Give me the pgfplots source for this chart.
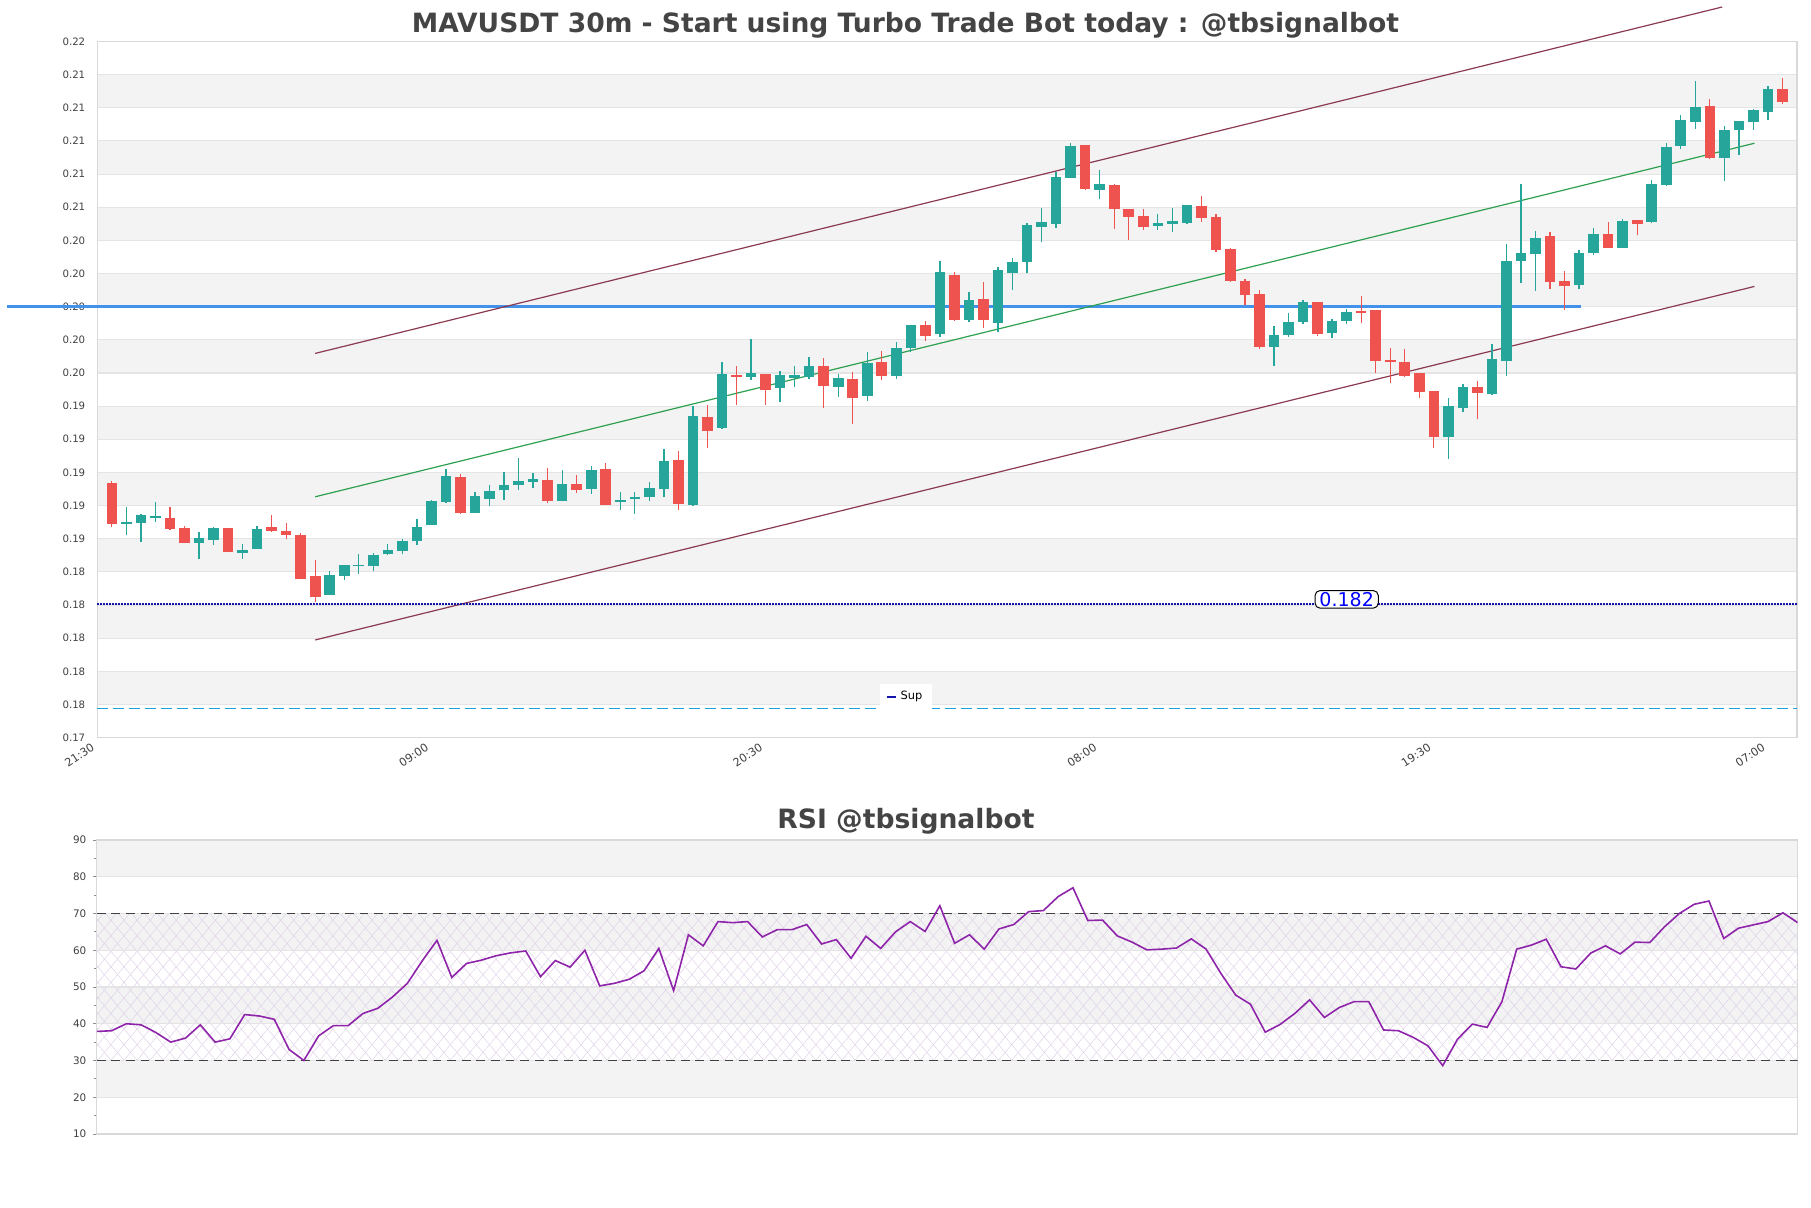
\documentclass[border=0pt]{standalone}
\usepackage{fontspec}
\setmainfont{DejaVu Sans}
\usepackage{pgfplots}
\usepackage{pgfplotstable}
\pgfplotsset{compat=1.18}
\usetikzlibrary{patterns.meta}

\definecolor{cup}{HTML}{26A69A}
\definecolor{cdn}{HTML}{EF5350}
\definecolor{bandc}{HTML}{F3F3F3}
\definecolor{gridc}{HTML}{E4E4E4}
\definecolor{framec}{HTML}{D9D9D9}
\definecolor{labc}{HTML}{404040}
\definecolor{titlec}{HTML}{444444}
\definecolor{chan}{HTML}{8B3A50}
\definecolor{mid}{HTML}{2EA050}
\definecolor{resist}{HTML}{4292EB}
\definecolor{navyc}{HTML}{1414AA}
\definecolor{cyanc}{HTML}{1AA7E0}
\definecolor{rsic}{HTML}{8E24AA}
\definecolor{hatchc}{HTML}{E0D2E9}

% candles: index, open, high, low, close
\pgfplotstableread{
i o h l c
2 0.18691 0.18789 0.18624 0.18699
3 0.18697 0.18751 0.18582 0.18743
4 0.18727 0.18821 0.18703 0.18737
7 0.18576 0.18638 0.18480 0.18602
8 0.18594 0.18668 0.18564 0.18665
10 0.18516 0.18568 0.18480 0.18530
11 0.18540 0.18677 0.18538 0.18659
16 0.18262 0.18405 0.18258 0.18381
17 0.18377 0.18443 0.18353 0.18441
18 0.18433 0.18510 0.18389 0.18441
19 0.18437 0.18512 0.18407 0.18502
20 0.18506 0.18568 0.18500 0.18530
21 0.18528 0.18596 0.18506 0.18586
22 0.18584 0.18719 0.18560 0.18671
23 0.18685 0.18834 0.18683 0.18827
24 0.18821 0.19021 0.18817 0.18978
26 0.18757 0.18880 0.18753 0.18858
27 0.18842 0.18926 0.18799 0.18888
28 0.18896 0.19000 0.18836 0.18924
29 0.18922 0.19087 0.18894 0.18948
30 0.18944 0.18994 0.18908 0.18960
32 0.18829 0.19014 0.18827 0.18930
34 0.18902 0.19037 0.18872 0.19014
36 0.18823 0.18882 0.18773 0.18834
37 0.18838 0.18882 0.18751 0.18852
38 0.18854 0.18942 0.18827 0.18906
39 0.18902 0.19141 0.18850 0.19069
41 0.18803 0.19401 0.18797 0.19340
43 0.19270 0.19664 0.19264 0.19594
45 0.19578 0.19805 0.19560 0.19598
47 0.19511 0.19614 0.19427 0.19586
48 0.19570 0.19642 0.19517 0.19586
49 0.19578 0.19696 0.19566 0.19642
51 0.19517 0.19594 0.19457 0.19570
53 0.19463 0.19726 0.19433 0.19660
55 0.19582 0.19785 0.19566 0.19751
56 0.19751 0.19889 0.19724 0.19887
58 0.19837 0.20275 0.19819 0.20209
60 0.19922 0.20088 0.19909 0.20040
62 0.19903 0.20241 0.19845 0.20221
63 0.20205 0.20294 0.20103 0.20269
64 0.20271 0.20503 0.20201 0.20493
65 0.20483 0.20595 0.20388 0.20511
66 0.20501 0.20814 0.20477 0.20782
67 0.20778 0.20985 0.20776 0.20971
69 0.20706 0.20824 0.20652 0.20740
73 0.20489 0.20559 0.20463 0.20505
74 0.20501 0.20595 0.20453 0.20517
75 0.20507 0.20615 0.20497 0.20613
81 0.19757 0.19883 0.19644 0.19829
82 0.19831 0.19964 0.19819 0.19907
83 0.19909 0.20038 0.19897 0.20028
85 0.19843 0.19924 0.19813 0.19913
86 0.19915 0.19986 0.19897 0.19968
93 0.19216 0.19447 0.19083 0.19401
94 0.19391 0.19533 0.19366 0.19515
96 0.19475 0.19777 0.19465 0.19684
97 0.19674 0.20378 0.19584 0.20275
98 0.20277 0.20740 0.20141 0.20322
99 0.20320 0.20456 0.20096 0.20414
102 0.20133 0.20342 0.20105 0.20326
103 0.20322 0.20475 0.20310 0.20438
105 0.20356 0.20527 0.20354 0.20519
107 0.20513 0.20762 0.20503 0.20740
108 0.20734 0.20987 0.20730 0.20963
109 0.20971 0.21158 0.20951 0.21126
110 0.21116 0.21361 0.21074 0.21205
112 0.20899 0.21090 0.20760 0.21066
113 0.21068 0.21122 0.20917 0.21120
114 0.21116 0.21195 0.21066 0.21187
115 0.21177 0.21331 0.21128 0.21313
}\upT

\pgfplotstableread{
i o h l c
1 0.18936 0.18948 0.18673 0.18691
5 0.18725 0.18789 0.18655 0.18661
6 0.18665 0.18675 0.18572 0.18576
9 0.18665 0.18667 0.18520 0.18522
12 0.18671 0.18743 0.18642 0.18648
13 0.18646 0.18695 0.18596 0.18624
14 0.18622 0.18632 0.18357 0.18359
15 0.18375 0.18472 0.18220 0.18250
25 0.18974 0.18990 0.18751 0.18757
31 0.18954 0.19029 0.18813 0.18829
33 0.18930 0.18984 0.18878 0.18896
35 0.19020 0.19057 0.18801 0.18805
40 0.19075 0.19127 0.18775 0.18811
42 0.19336 0.19405 0.19148 0.19252
44 0.19586 0.19642 0.19407 0.19578
46 0.19594 0.19596 0.19407 0.19499
50 0.19642 0.19692 0.19391 0.19523
52 0.19562 0.19606 0.19294 0.19451
54 0.19666 0.19733 0.19558 0.19584
57 0.19887 0.19916 0.19795 0.19825
59 0.20191 0.20209 0.19916 0.19922
61 0.20046 0.20147 0.19873 0.19920
68 0.20975 0.20977 0.20706 0.20710
70 0.20734 0.20740 0.20471 0.20591
71 0.20587 0.20589 0.20402 0.20543
72 0.20547 0.20589 0.20465 0.20483
76 0.20607 0.20668 0.20513 0.20537
77 0.20541 0.20557 0.20332 0.20344
78 0.20348 0.20354 0.20151 0.20157
79 0.20155 0.20167 0.20012 0.20072
80 0.20076 0.20101 0.19745 0.19757
84 0.20028 0.20030 0.19825 0.19837
87 0.19970 0.20062 0.19903 0.19964
88 0.19980 0.19982 0.19602 0.19674
89 0.19678 0.19751 0.19541 0.19664
90 0.19666 0.19745 0.19574 0.19584
91 0.19598 0.19600 0.19451 0.19487
92 0.19491 0.19493 0.19149 0.19216
95 0.19515 0.19551 0.19324 0.19481
100 0.20426 0.20448 0.20109 0.20151
101 0.20155 0.20217 0.19980 0.20127
104 0.20438 0.20511 0.20354 0.20356
106 0.20523 0.20525 0.20430 0.20501
111 0.21211 0.21251 0.20893 0.20897
116 0.21313 0.21380 0.21225 0.21237
}\dnT

\pgfplotstableread{
k rsi
0 37.9
1 38.1
2 40.0
3 39.7
4 37.6
5 35.0
6 36.1
7 39.7
8 35.0
9 35.9
10 42.5
11 42.1
12 41.2
13 33.0
14 30.0
15 36.7
16 39.5
17 39.5
18 42.8
19 44.2
20 47.3
21 51.0
22 57.1
23 62.7
24 52.6
25 56.4
26 57.3
27 58.5
28 59.3
29 59.8
30 52.8
31 57.2
32 55.4
33 60.0
34 50.3
35 51.0
36 52.1
37 54.4
38 60.5
39 49.0
40 64.2
41 61.2
42 67.8
43 67.5
44 67.8
45 63.6
46 65.6
47 65.6
48 67.0
49 61.7
50 62.9
51 57.8
52 63.8
53 60.5
54 65.0
55 67.8
56 65.1
57 72.1
58 61.9
59 64.2
60 60.3
61 65.8
62 67.0
63 70.5
64 70.8
65 74.6
66 77.0
67 68.1
68 68.2
69 63.9
70 62.2
71 60.1
72 60.3
73 60.6
74 63.1
75 60.3
76 53.7
77 47.8
78 45.3
79 37.7
80 39.8
81 42.8
82 46.5
83 41.7
84 44.4
85 46.0
86 46.0
87 38.3
88 38.1
89 36.3
90 34.0
91 28.6
92 35.8
93 39.9
94 39.0
95 46.0
96 60.3
97 61.4
98 63.0
99 55.5
100 54.9
101 59.2
102 61.2
103 59.0
104 62.2
105 62.1
106 66.4
107 70.0
108 72.5
109 73.4
110 63.2
111 66.0
112 66.9
113 67.8
114 70.2
115 67.5
}\rsiT

\pgfplotsset{
  band/.style={forget plot, on layer=axis background, fill=bandc, draw=none},
}

\begin{document}
\begin{tikzpicture}

\node[anchor=base, text=titlec, font=\bfseries\fontsize{13.28}{16}\selectfont]
  at (452.75pt,587.75pt) {MAVUSDT 30m - Start using Turbo Trade Bot today : @tbsignalbot};
\node[anchor=base, text=titlec, font=\bfseries\fontsize{13.3}{16}\selectfont]
  at (453pt,189.5pt) {RSI @tbsignalbot};

\begin{axis}[
  at={(48.65pt,235.2pt)}, anchor=south west,
  scale only axis, width=849.85pt, height=348.05pt,
  xmin=0, xmax=117, ymin=0.174, ymax=0.216,
  clip=false, set layers,
  axis line style={draw=framec, line width=0.6pt},
  ymajorgrids, major grid style={draw=gridc, line width=0.55pt},
  major tick length=0pt,
  xtick={0,23,46,69,92,115},
  xticklabels={21:30,09:00,20:30,08:00,19:30,07:00},
  ytick={0.174,0.176,0.178,0.180,0.182,0.184,0.186,0.188,0.190,0.192,0.194,
         0.196,0.198,0.200,0.202,0.204,0.206,0.208,0.210,0.212,0.214,0.216},
  scaled y ticks=false,
  /pgf/number format/assume math mode=true,
  yticklabel style={/pgf/number format/fixed, /pgf/number format/fixed zerofill,
    /pgf/number format/precision=2, font=\fontsize{5.1}{6}\selectfont, text=labc, xshift=-2.5pt},
  xticklabel style={rotate=33, anchor=north east, font=\fontsize{5.6}{6.5}\selectfont,
    text=labc, inner sep=1pt, xshift=-3pt, yshift=0.8pt},
  legend style={at={(0.4758,0.0583)}, anchor=center, draw=none, fill=white,
    font=\fontsize{5.7}{6.5}\selectfont, inner xsep=3pt, inner ysep=1.6pt},
  legend image code/.code={\draw[navyc, solid, line width=0.9pt] (0pt,0pt) -- (4.6pt,0pt);},
]
\addplot [band] coordinates {(0,0.176) (117,0.176) (117,0.178) (0,0.178) (0,0.176)};
\addplot [band] coordinates {(0,0.180) (117,0.180) (117,0.182) (0,0.182) (0,0.180)};
\addplot [band] coordinates {(0,0.184) (117,0.184) (117,0.186) (0,0.186) (0,0.184)};
\addplot [band] coordinates {(0,0.188) (117,0.188) (117,0.190) (0,0.190) (0,0.188)};
\addplot [band] coordinates {(0,0.192) (117,0.192) (117,0.194) (0,0.194) (0,0.192)};
\addplot [band] coordinates {(0,0.196) (117,0.196) (117,0.198) (0,0.198) (0,0.196)};
\addplot [band] coordinates {(0,0.200) (117,0.200) (117,0.202) (0,0.202) (0,0.200)};
\addplot [band] coordinates {(0,0.204) (117,0.204) (117,0.206) (0,0.206) (0,0.204)};
\addplot [band] coordinates {(0,0.208) (117,0.208) (117,0.210) (0,0.210) (0,0.208)};
\addplot [band] coordinates {(0,0.212) (117,0.212) (117,0.214) (0,0.214) (0,0.212)};

% horizontal levels
\addplot [forget plot, cyanc, line width=0.6pt, dash pattern=on 5.5pt off 2.5pt]
  coordinates {(0,0.17574) (117,0.17574)};
\addplot [forget plot, resist, line width=1.6pt] coordinates {(-6.2,0.200) (102.1,0.200)};

% channel
\addplot [forget plot, chan, line width=0.6pt] coordinates {(15,0.19718) (111.85,0.21808)};
\addplot [forget plot, mid, line width=0.6pt] coordinates {(15,0.18853) (114.07,0.20986)};
\addplot [forget plot, chan, line width=0.6pt] coordinates {(15,0.17989) (114.07,0.20122)};

% candles: wicks low->high, bodies open->close (minimum height for dojis)
\addplot [forget plot, cup, line width=0.65pt, quiver={u=0, v=\thisrow{h}-\thisrow{l}}]
  table [x=i, y=l] {\upT};
\addplot [forget plot, cdn, line width=0.65pt, quiver={u=0, v=\thisrow{h}-\thisrow{l}}]
  table [x=i, y=l] {\dnT};
\addplot [forget plot, cup, line width=5.3pt,
  quiver={u=0, v={2*max(abs(\thisrow{c}-\thisrow{o})/2,0.00004)}}]
  table [x=i, y expr={(\thisrow{o}+\thisrow{c})/2-max(abs(\thisrow{c}-\thisrow{o})/2,0.00004)}] {\upT};
\addplot [forget plot, cdn, line width=5.3pt,
  quiver={u=0, v={2*max(abs(\thisrow{c}-\thisrow{o})/2,0.00004)}}]
  table [x=i, y expr={(\thisrow{o}+\thisrow{c})/2-max(abs(\thisrow{c}-\thisrow{o})/2,0.00004)}] {\dnT};

% support
\addplot [navyc, line width=1.1pt, dash pattern=on 0.9pt off 0.6pt]
  coordinates {(0,0.18208) (117,0.18208)};
\addlegendentry{Sup}
\node[draw=black, line width=0.5pt, rounded corners=2.5pt, fill=white, text=blue,
  font=\fontsize{9.5}{10}\selectfont, inner xsep=2.2pt, inner ysep=0.8pt]
  at (axis cs:86,0.18234) {0.182};
\end{axis}

\begin{axis}[
  at={(48.4pt,37pt)}, anchor=south west,
  scale only axis, width=850.45pt, height=147pt,
  xmin=0, xmax=115, ymin=10, ymax=90,
  set layers,
  axis line style={draw=framec, line width=0.6pt},
  xtick=\empty,
  ytick={10,20,30,40,50,60,70,80,90},
  minor ytick={15,25,35,45,55,65,75,85},
  ytick pos=left, tick align=outside,
  major tick length=1.7pt, minor tick length=1.4pt,
  every tick/.style={draw=black!45, line width=0.4pt},
  ymajorgrids, major grid style={draw=gridc, line width=0.55pt},
  yticklabel style={font=\fontsize{5.2}{6.5}\selectfont, text=labc},
  /pgf/number format/assume math mode=true,
]
\addplot [band] coordinates {(0,80) (115,80) (115,90) (0,90) (0,80)};
\addplot [band] coordinates {(0,60) (115,60) (115,70) (0,70) (0,60)};
\addplot [band] coordinates {(0,40) (115,40) (115,50) (0,50) (0,40)};
\addplot [band] coordinates {(0,20) (115,20) (115,30) (0,30) (0,20)};
\addplot [forget plot, on layer=axis background, draw=none,
  pattern={Lines[angle=50,distance=5pt,line width=0.25pt]}, pattern color=hatchc]
  coordinates {(0,30) (115,30) (115,70) (0,70) (0,30)};
\addplot [forget plot, on layer=axis background, draw=none,
  pattern={Lines[angle=-50,distance=5pt,line width=0.25pt]}, pattern color=hatchc]
  coordinates {(0,30) (115,30) (115,70) (0,70) (0,30)};
\addplot [forget plot, black!75, line width=0.6pt, dash pattern=on 4.4pt off 2.9pt]
  coordinates {(0,70) (115,70)};
\addplot [forget plot, black!75, line width=0.6pt, dash pattern=on 4.4pt off 2.9pt]
  coordinates {(0,30) (115,30)};
\addplot [rsic, line width=0.8pt] table [x=k, y=rsi] {\rsiT};
\end{axis}

\pgfresetboundingbox
\useasboundingbox (0,0) rectangle (905.5pt,604pt);
\end{tikzpicture}
\end{document}
